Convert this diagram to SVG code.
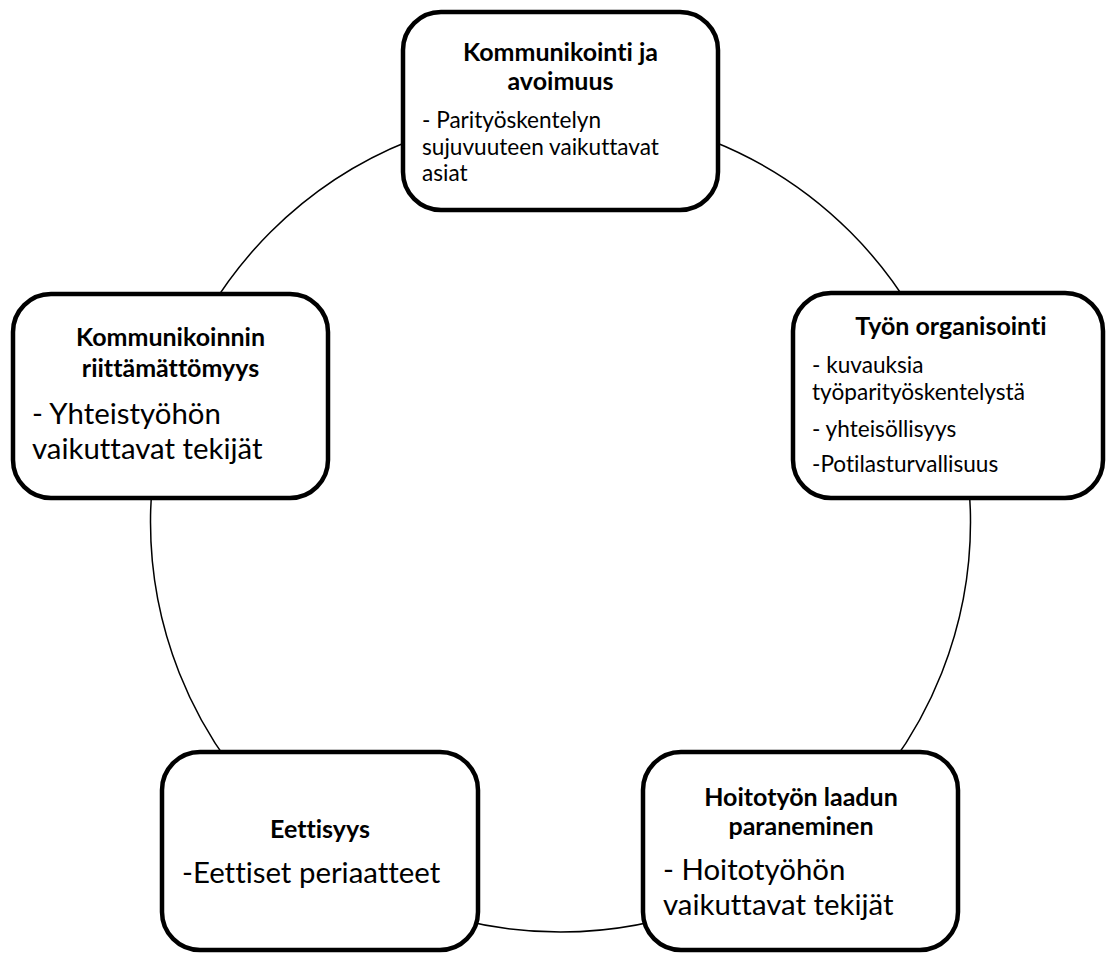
<svg xmlns="http://www.w3.org/2000/svg" width="1108" height="955" viewBox="0 0 1108 955">
<style>
.box{fill:#fff;stroke:#000;stroke-width:4.5}
.ring{fill:none;stroke:#000;stroke-width:1.5}
text{font-family:Lato,"Liberation Sans",sans-serif;fill:#000;font-variant-ligatures:none;font-feature-settings:"liga" 0,"dlig" 0}
.t{font-weight:bold;font-size:25px;text-anchor:middle}
.s{font-size:22.6px}
.b{font-size:29.4px}
</style>
<rect width="1108" height="955" fill="#fff"/>
<g id="connectors">
<circle class="ring" cx="560.5" cy="522" r="410"/>
</g>
<g id="node-kommunikointi">
<rect class="box" x="403" y="12" width="315" height="198" rx="38"/>
<text class="t" x="560.5" y="61">Kommunikointi ja</text>
<text class="t" x="560.5" y="90">avoimuus</text>
<text class="s" x="422" y="128">- Parityöskentelyn</text>
<text class="s" x="422" y="155">sujuvuuteen vaikuttavat</text>
<text class="s" x="422" y="181">asiat</text>
</g>
<g id="node-tyon-organisointi">
<rect class="box" x="793" y="293" width="310" height="205" rx="38"/>
<text class="t" x="951" y="335">Työn organisointi</text>
<text class="s" x="812" y="373">- kuvauksia</text>
<text class="s" x="812" y="400">työparityöskentelystä</text>
<text class="s" x="812" y="437">- yhteisöllisyys</text>
<text class="s" x="812" y="472">-Potilasturvallisuus</text>
</g>
<g id="node-riittamattomyys">
<rect class="box" x="13" y="294" width="315" height="204" rx="38"/>
<text class="t" x="170.5" y="346">Kommunikoinnin</text>
<text class="t" x="170.5" y="377">riittämättömyys</text>
<text class="b" x="32" y="424">- Yhteistyöhön</text>
<text class="b" x="32" y="459">vaikuttavat tekijät</text>
</g>
<g id="node-eettisyys">
<rect class="box" x="162" y="752" width="316" height="198" rx="38"/>
<text class="t" x="320" y="838">Eettisyys</text>
<text class="b" x="182" y="883">-Eettiset periaatteet</text>
</g>
<g id="node-hoitotyon-laatu">
<rect class="box" x="643" y="752" width="315" height="198" rx="38"/>
<text class="t" x="801" y="806">Hoitotyön laadun</text>
<text class="t" x="801" y="835">paraneminen</text>
<text class="b" x="663" y="880">- Hoitotyöhön</text>
<text class="b" x="663" y="915">vaikuttavat tekijät</text>
</g>
</svg>
